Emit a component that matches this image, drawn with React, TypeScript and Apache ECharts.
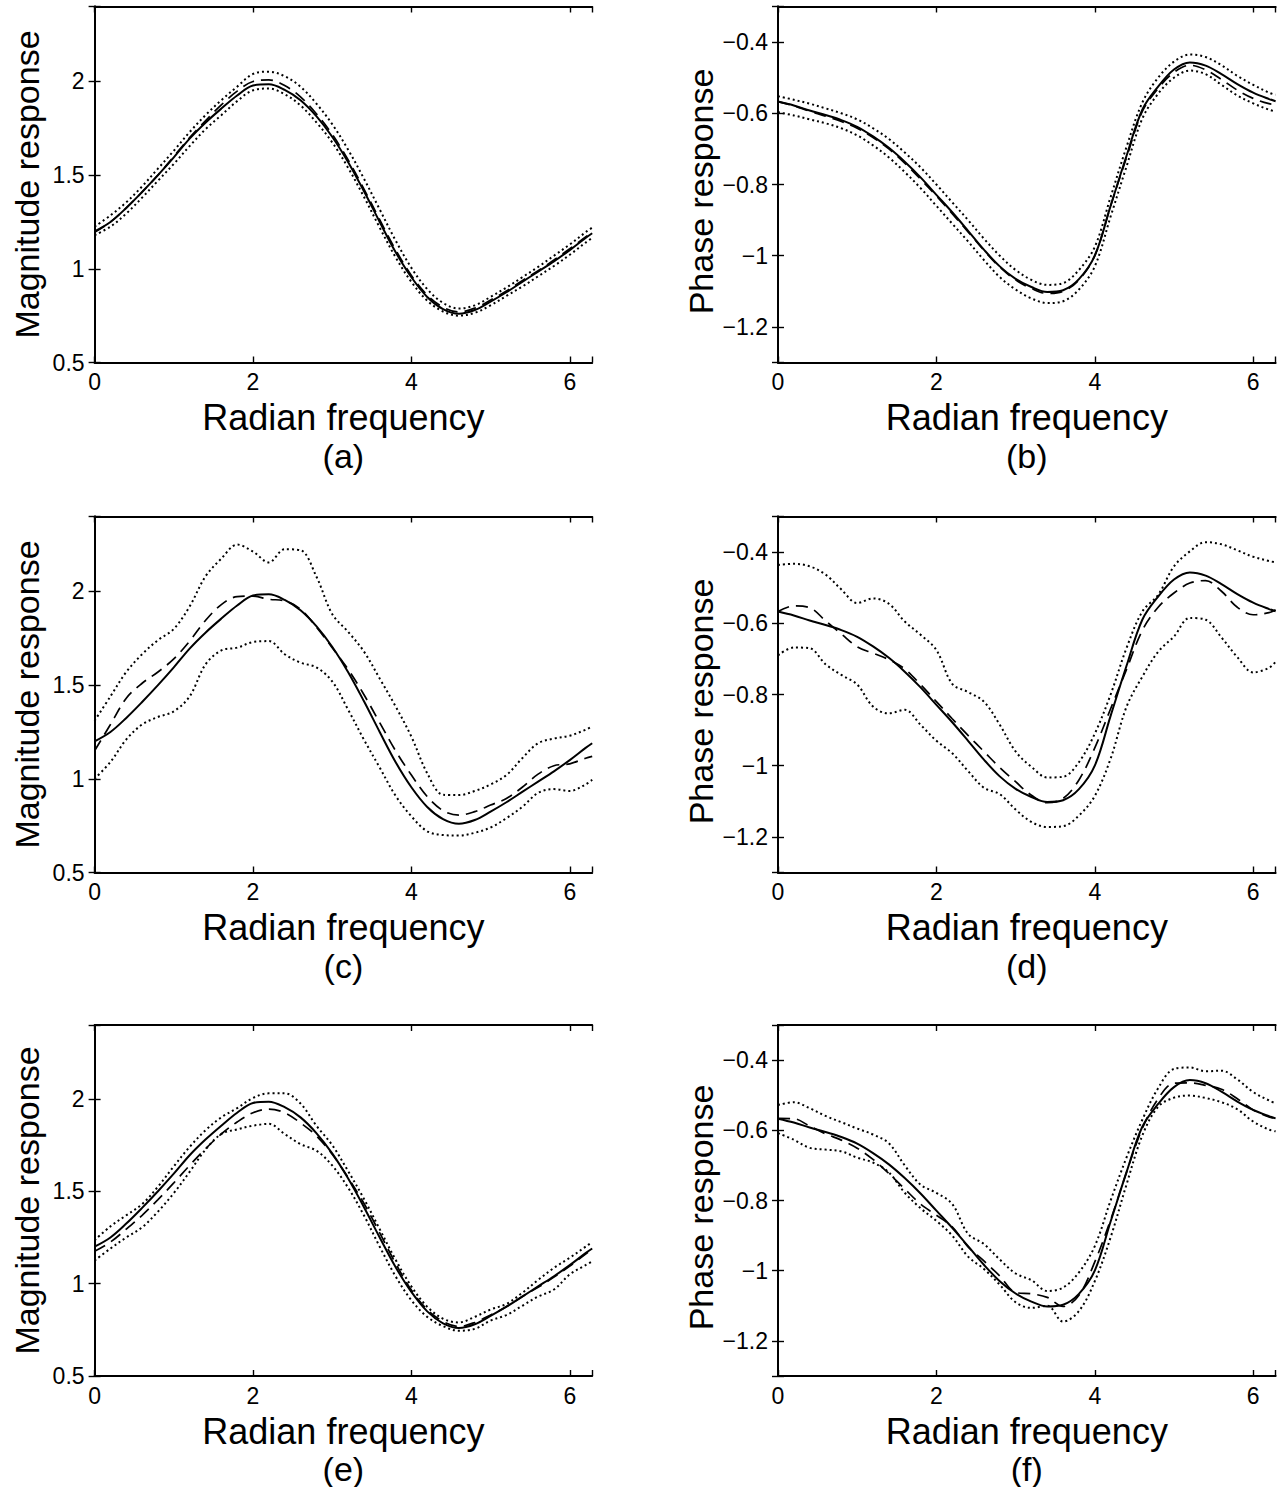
import React, { useEffect, useRef } from "react";
import * as echarts from "echarts";

const TWO_PI = 6.2832;
const freq = [0, 0.2, 0.4, 0.6, 0.8, 1.0, 1.2, 1.4, 1.6, 1.8, 2.0, 2.2, 2.4, 2.6, 2.8, 3.0, 3.2, 3.4, 3.6, 3.8, 4.0, 4.2, 4.4, 4.6, 4.8, 5.0, 5.2, 5.4, 5.6, 5.8, 6.0, 6.2, TWO_PI];

const xTicks = [0, 2, 4, 6];
const magTicks = [0.5, 1, 1.5, 2];
const phaseTicks = [-1.2, -1, -0.8, -0.6, -0.4];

// true responses (solid)
const trueMag = [1.2, 1.25, 1.325, 1.41, 1.5, 1.595, 1.695, 1.78, 1.855, 1.925, 1.978, 1.985, 1.955, 1.9, 1.815, 1.705, 1.57, 1.415, 1.25, 1.09, 0.955, 0.85, 0.785, 0.76, 0.78, 0.825, 0.875, 0.93, 0.985, 1.04, 1.1, 1.165, 1.19];
const truePhase = [-0.567, -0.578, -0.592, -0.605, -0.619, -0.638, -0.665, -0.697, -0.736, -0.78, -0.829, -0.878, -0.93, -0.983, -1.03, -1.065, -1.088, -1.102, -1.097, -1.066, -1.0, -0.86, -0.72, -0.59, -0.525, -0.477, -0.457, -0.466, -0.49, -0.518, -0.542, -0.56, -0.566];

// (a)
const magAMean = [1.195, 1.25, 1.325, 1.41, 1.5, 1.6, 1.7, 1.79, 1.875, 1.948, 2.0, 2.008, 1.978, 1.918, 1.828, 1.718, 1.582, 1.427, 1.262, 1.102, 0.965, 0.86, 0.795, 0.77, 0.79, 0.833, 0.882, 0.937, 0.99, 1.047, 1.107, 1.17, 1.195];
const magAUpper = [1.225, 1.285, 1.355, 1.44, 1.535, 1.63, 1.73, 1.82, 1.9, 1.972, 2.04, 2.052, 2.028, 1.972, 1.882, 1.772, 1.637, 1.482, 1.317, 1.152, 1.005, 0.892, 0.818, 0.788, 0.805, 0.85, 0.9, 0.955, 1.01, 1.07, 1.13, 1.195, 1.22];
const magALower = [1.18, 1.225, 1.295, 1.38, 1.47, 1.56, 1.655, 1.745, 1.82, 1.895, 1.953, 1.962, 1.932, 1.872, 1.782, 1.675, 1.54, 1.385, 1.22, 1.062, 0.93, 0.83, 0.772, 0.75, 0.765, 0.805, 0.855, 0.905, 0.96, 1.015, 1.075, 1.14, 1.165];

// (b)
const phaseBMean = [-0.567, -0.579, -0.594, -0.608, -0.623, -0.642, -0.668, -0.7, -0.74, -0.785, -0.832, -0.882, -0.933, -0.985, -1.032, -1.068, -1.092, -1.106, -1.1, -1.068, -1.0, -0.86, -0.725, -0.595, -0.53, -0.485, -0.465, -0.478, -0.505, -0.535, -0.558, -0.573, -0.575];
const phaseBUpper = [-0.552, -0.562, -0.573, -0.586, -0.6, -0.617, -0.642, -0.672, -0.71, -0.752, -0.8, -0.85, -0.9, -0.952, -1.0, -1.04, -1.068, -1.082, -1.077, -1.04, -0.975, -0.835, -0.695, -0.57, -0.5, -0.455, -0.435, -0.442, -0.465, -0.495, -0.52, -0.542, -0.548];
const phaseBLower = [-0.597, -0.606, -0.617, -0.628, -0.642, -0.662, -0.69, -0.724, -0.765, -0.81, -0.86, -0.91, -0.96, -1.012, -1.06, -1.095, -1.12, -1.133, -1.128, -1.095, -1.03, -0.89, -0.75, -0.615, -0.545, -0.5, -0.48, -0.49, -0.52, -0.55, -0.572, -0.59, -0.595];

// (c)
const magCMean = [1.15, 1.29, 1.43, 1.51, 1.57, 1.64, 1.735, 1.845, 1.93, 1.972, 1.975, 1.958, 1.95, 1.905, 1.81, 1.7, 1.585, 1.45, 1.3, 1.15, 1.02, 0.905, 0.83, 0.806, 0.825, 0.86, 0.895, 0.955, 1.025, 1.07, 1.08, 1.11, 1.12];
const magCUpper = [1.31, 1.44, 1.57, 1.665, 1.74, 1.8, 1.92, 2.08, 2.175, 2.25, 2.213, 2.155, 2.225, 2.22, 2.08, 1.88, 1.785, 1.68, 1.535, 1.387, 1.225, 1.03, 0.915, 0.913, 0.935, 0.97, 1.02, 1.11, 1.19, 1.215, 1.23, 1.262, 1.28];
const magCLower = [1.0, 1.09, 1.21, 1.29, 1.33, 1.36, 1.44, 1.61, 1.685, 1.7, 1.73, 1.735, 1.665, 1.62, 1.595, 1.52, 1.37, 1.21, 1.06, 0.91, 0.8, 0.72, 0.7, 0.697, 0.712, 0.74, 0.79, 0.85, 0.925, 0.945, 0.935, 0.97, 0.995];

// (d)
const phaseDMean = [-0.567, -0.551, -0.556, -0.593, -0.63, -0.666, -0.684, -0.702, -0.728, -0.772, -0.82, -0.868, -0.915, -0.96, -1.005, -1.045, -1.083, -1.104, -1.092, -1.04, -0.95, -0.84, -0.73, -0.62, -0.555, -0.515, -0.487, -0.48, -0.51, -0.555, -0.576, -0.57, -0.562];
const phaseDUpper = [-0.436, -0.433, -0.44, -0.463, -0.505, -0.543, -0.53, -0.545, -0.595, -0.632, -0.675, -0.77, -0.793, -0.82, -0.885, -0.96, -1.003, -1.033, -1.031, -0.99, -0.91, -0.8, -0.67, -0.567, -0.52, -0.44, -0.398, -0.372, -0.378, -0.395, -0.413, -0.425, -0.429];
const phaseDLower = [-0.69, -0.668, -0.67, -0.715, -0.745, -0.772, -0.834, -0.853, -0.843, -0.885, -0.93, -0.965, -1.015, -1.062, -1.08, -1.123, -1.158, -1.172, -1.17, -1.14, -1.085, -0.98, -0.835, -0.75, -0.68, -0.637, -0.585, -0.59, -0.64, -0.695, -0.738, -0.725, -0.708];

// (e)
const magEMean = [1.175, 1.225, 1.295, 1.37, 1.455, 1.545, 1.64, 1.73, 1.81, 1.875, 1.925, 1.945, 1.925, 1.87, 1.8, 1.7, 1.575, 1.435, 1.275, 1.11, 0.965, 0.86, 0.795, 0.768, 0.79, 0.83, 0.875, 0.93, 0.98, 1.035, 1.095, 1.16, 1.185];
const magEUpper = [1.235, 1.31, 1.37, 1.43, 1.525, 1.635, 1.74, 1.83, 1.9, 1.95, 2.005, 2.03, 2.03, 1.975, 1.855, 1.75, 1.61, 1.46, 1.295, 1.13, 0.985, 0.875, 0.81, 0.79, 0.82, 0.86, 0.89, 0.95, 1.02, 1.085, 1.14, 1.2, 1.225];
const magELower = [1.125, 1.19, 1.25, 1.305, 1.39, 1.49, 1.605, 1.725, 1.81, 1.835, 1.855, 1.865, 1.81, 1.755, 1.72, 1.64, 1.52, 1.37, 1.2, 1.04, 0.91, 0.82, 0.77, 0.745, 0.755, 0.8, 0.83, 0.88, 0.93, 0.968, 1.05, 1.1, 1.12];

// (f)
const phaseFMean = [-0.566, -0.567, -0.588, -0.61, -0.628, -0.651, -0.683, -0.723, -0.767, -0.81, -0.842, -0.875, -0.932, -0.972, -1.015, -1.062, -1.066, -1.076, -1.102, -1.07, -0.975, -0.855, -0.72, -0.595, -0.51, -0.466, -0.465, -0.472, -0.483, -0.51, -0.542, -0.562, -0.566];
const phaseFUpper = [-0.528, -0.52, -0.537, -0.559, -0.577, -0.595, -0.612, -0.637, -0.7, -0.755, -0.778, -0.81, -0.895, -0.924, -0.968, -1.008, -1.027, -1.058, -1.048, -1.005, -0.93, -0.8, -0.678, -0.57, -0.48, -0.425, -0.421, -0.432, -0.43, -0.455, -0.491, -0.515, -0.523];
const phaseFLower = [-0.608, -0.627, -0.65, -0.655, -0.66, -0.678, -0.692, -0.72, -0.778, -0.822, -0.858, -0.9, -0.96, -0.995, -1.04, -1.09, -1.106, -1.1, -1.145, -1.115, -1.03, -0.905, -0.755, -0.615, -0.533, -0.507, -0.501, -0.508, -0.52, -0.54, -0.575, -0.598, -0.603];

const panels = [
  { kind: "mag", label: "(a)", row: 0, col: 0, mean: magAMean, upper: magAUpper, lower: magALower },
  { kind: "phase", label: "(b)", row: 0, col: 1, mean: phaseBMean, upper: phaseBUpper, lower: phaseBLower },
  { kind: "mag", label: "(c)", row: 1, col: 0, mean: magCMean, upper: magCUpper, lower: magCLower },
  { kind: "phase", label: "(d)", row: 1, col: 1, mean: phaseDMean, upper: phaseDUpper, lower: phaseDLower },
  { kind: "mag", label: "(e)", row: 2, col: 0, mean: magEMean, upper: magEUpper, lower: magELower },
  { kind: "phase", label: "(f)", row: 2, col: 1, mean: phaseFMean, upper: phaseFUpper, lower: phaseFLower },
];

const FONT = "'Liberation Sans', Arial, Helvetica, sans-serif";
const GRID_LEFT = [94.6, 778];
const GRID_TOP = [6.5, 516.5, 1025];
const GRID_W = 497.6;
const GRID_H = 356;

function fmtY(v: number) {
  const r = Math.round(v * 100) / 100;
  const s = String(Math.abs(r));
  return r < 0 ? "\u2212" + s : s;
}

function near(list: number[], v: number) {
  return list.some((t) => Math.abs(t - v) < 1e-6);
}

export default function App() {
  const ref = useRef<HTMLDivElement>(null);

  useEffect(() => {
    document.body.style.margin = "0";
    const chart = echarts.init(ref.current!, null, { renderer: "svg" });

    const grid: any[] = [];
    const xAxis: any[] = [];
    const yAxis: any[] = [];
    const series: any[] = [];

    const lineCommon = { show: true, lineStyle: { color: "#000", width: 2 } };
    const tickCommon = { show: true, inside: true, length: 6, lineStyle: { color: "#000", width: 1.4 } };

    panels.forEach((p, i) => {
      grid.push({ left: GRID_LEFT[p.col], top: GRID_TOP[p.row], width: GRID_W, height: GRID_H, containLabel: false });
      const isMag = p.kind === "mag";
      const ticks = isMag ? magTicks : phaseTicks;
      const yRange = isMag
        ? { min: 0.5, max: 2.4, interval: 0.5 }
        : { min: -1.3, max: -0.3, splitNumber: 5 };
      const xRange = { min: 0, max: TWO_PI, interval: 2 };

      xAxis.push({
        type: "value", gridIndex: i, position: "bottom", ...xRange,
        axisLine: lineCommon, axisTick: tickCommon, splitLine: { show: false },
        axisLabel: {
          color: "#000", fontSize: 23, fontFamily: FONT, margin: 8,
          formatter: (v: number) => (near(xTicks, v) ? String(Math.round(v)) : ""),
        },
        name: "{t|Radian frequency}\n{l|" + p.label + "}",
        nameLocation: "middle", nameGap: 37,
        nameTextStyle: {
          color: "#000", fontFamily: FONT, align: "center",
          rich: {
            t: { fontSize: 36, lineHeight: 36, color: "#000", fontFamily: FONT },
            l: { fontSize: 34, lineHeight: 40, color: "#000", fontFamily: FONT },
          },
        },
      });
      xAxis.push({
        type: "value", gridIndex: i, position: "top", ...xRange,
        axisLine: lineCommon, axisTick: tickCommon, splitLine: { show: false },
        axisLabel: { show: false },
      });
      yAxis.push({
        type: "value", gridIndex: i, position: "left", ...yRange,
        axisLine: lineCommon, axisTick: tickCommon, splitLine: { show: false },
        axisLabel: {
          color: "#000", fontSize: 23, fontFamily: FONT, margin: 10,
          formatter: (v: number) => (near(ticks, v) ? fmtY(v) : ""),
        },
        name: isMag ? "Magnitude response" : "Phase response",
        nameLocation: "middle", nameGap: isMag ? 50 : 56,
        nameTextStyle: {
          color: "#000", fontSize: 34, lineHeight: 35, fontFamily: FONT,
          padding: isMag ? 0 : [0, 14, 0, 0],
        },
      });
      yAxis.push({
        type: "value", gridIndex: i, position: "right", ...yRange,
        axisLine: lineCommon, axisTick: tickCommon, splitLine: { show: false },
        axisLabel: { show: false },
      });

      const truth = isMag ? trueMag : truePhase;
      const mk = (arr: number[]) => freq.map((x, k) => [x, arr[k]]);
      const base = { type: "line", xAxisIndex: 2 * i, yAxisIndex: 2 * i, showSymbol: false, symbol: "none", smooth: 0.35, silent: true };
      series.push({ ...base, name: "upper", data: mk(p.upper), z: 2, lineStyle: { color: "#000", width: 2, type: [2, 3] } });
      series.push({ ...base, name: "lower", data: mk(p.lower), z: 2, lineStyle: { color: "#000", width: 2, type: [2, 3] } });
      series.push({ ...base, name: "mean", data: mk(p.mean), z: 3, lineStyle: { color: "#000", width: 1.7, type: [12, 7] } });
      series.push({ ...base, name: "true", data: mk(truth), z: 4, lineStyle: { color: "#000", width: 2, type: "solid" } });
    });

    chart.setOption({
      animation: false,
      backgroundColor: "#fff",
      textStyle: { fontFamily: FONT },
      grid, xAxis, yAxis, series,
    });

    return () => chart.dispose();
  }, []);

  return <div ref={ref} style={{ width: 1280, height: 1487 }} />;
}
